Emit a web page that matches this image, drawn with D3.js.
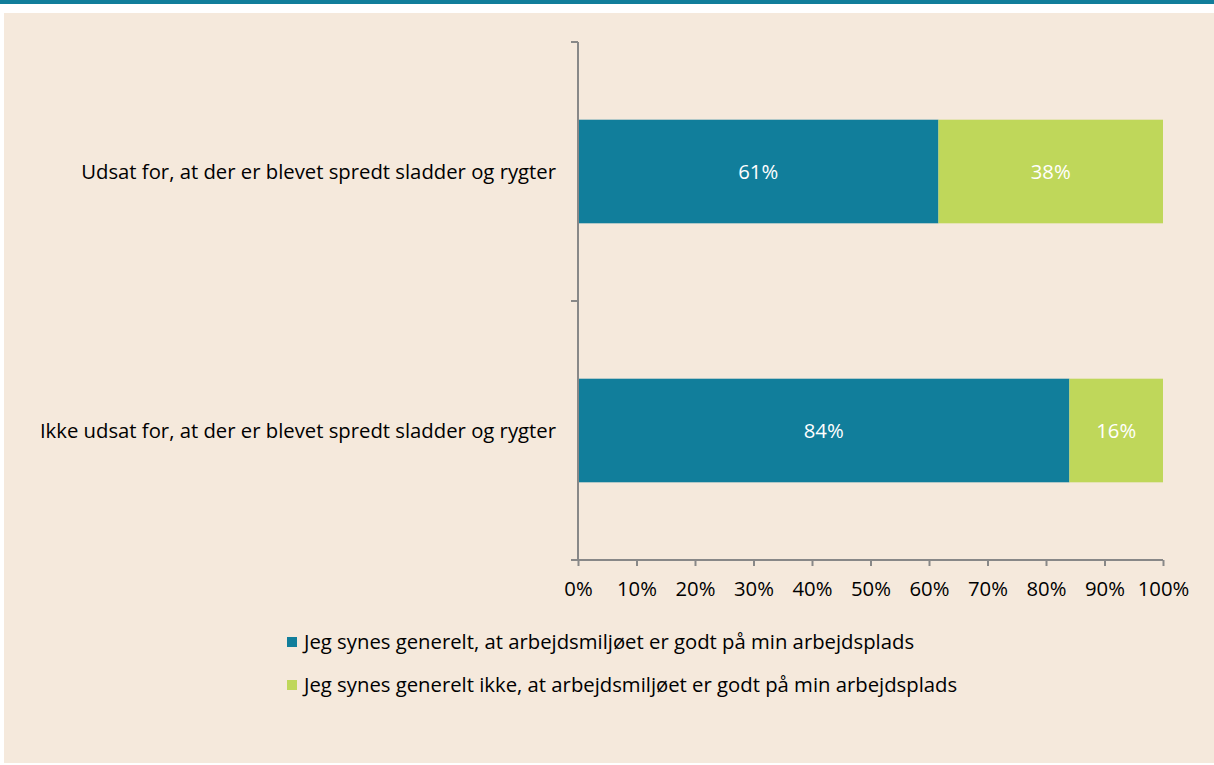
<!DOCTYPE html>
<html>
<head>
<meta charset="utf-8">
<script src="https://cdn.jsdelivr.net/npm/d3@7"></script>
<style>
  body { margin: 0; background: #fff; }
  svg text { font-family: "Open Sans", "Noto Sans", sans-serif; }
</style>
</head>
<body>
<svg id="chart"></svg>
<script>
const categories = [
  "Udsat for, at der er blevet spredt sladder og rygter",
  "Ikke udsat for, at der er blevet spredt sladder og rygter"
];
const seriesNames = [
  "Jeg synes generelt, at arbejdsmiljøet er godt på min arbejdsplads",
  "Jeg synes generelt ikke, at arbejdsmiljøet er godt på min arbejdsplads"
];
const goodValues = [61, 84];
const notGoodValues = [38, 16];
const tickValues = [0, 0.1, 0.2, 0.3, 0.4, 0.5, 0.6, 0.7, 0.8, 0.9, 1];
const colors = ["#117e9b", "#bfd75a"];

const width = 1214, height = 765;
const fontSize = "20.3px";
const svg = d3.select("#chart").attr("width", width).attr("height", height);

// backgrounds
svg.append("rect").attr("x", 0).attr("y", 0).attr("width", width).attr("height", 4).attr("fill", "#117e9b");
svg.append("rect").attr("x", 4).attr("y", 13).attr("width", width - 4).attr("height", 750).attr("fill", "#f5e9dc");

const plotLeft = 578, plotRight = 1163, plotTop = 42, plotBottom = 560;

const x = d3.scaleLinear().domain([0, 1]).range([plotLeft, plotRight]);
const y = d3.scaleBand().domain(categories).range([plotTop, plotBottom]).paddingInner(0.6).paddingOuter(0.3);

// 100% stacked rows
const rows = categories.map((c, i) => {
  const total = goodValues[i] + notGoodValues[i];
  return { cat: c, good: goodValues[i] / total, bad: notGoodValues[i] / total, gv: goodValues[i], bv: notGoodValues[i] };
});
const stacked = d3.stack().keys(["good", "bad"])(rows);

const g = svg.append("g");
stacked.forEach((layer, li) => {
  g.selectAll(null)
    .data(layer)
    .enter()
    .append("rect")
    .attr("x", d => x(d[0]))
    .attr("y", d => y(d.data.cat))
    .attr("width", d => x(d[1]) - x(d[0]))
    .attr("height", y.bandwidth())
    .attr("fill", colors[li]);

  g.selectAll(null)
    .data(layer)
    .enter()
    .append("text")
    .attr("x", d => (x(d[0]) + x(d[1])) / 2)
    .attr("y", d => y(d.data.cat) + y.bandwidth() / 2)
    .attr("dy", "0.35em")
    .attr("text-anchor", "middle")
    .attr("fill", "#fff")
    .style("font-size", fontSize)
    .text(d => (li === 0 ? d.data.gv : d.data.bv) + "%");
});

// x axis
const xAxis = svg.append("g")
  .attr("transform", `translate(0,${plotBottom})`)
  .call(d3.axisBottom(x).tickValues(tickValues).tickFormat(d3.format(".0%")).tickSize(6).tickSizeOuter(0));
xAxis.select(".domain").attr("stroke", "#888").attr("stroke-width", 2).attr("d", `M${plotLeft - 7},0H${plotRight}`);
xAxis.selectAll(".tick line").attr("stroke", "#888").attr("stroke-width", 2);
xAxis.selectAll(".tick text").attr("fill", "#000").style("font-size", fontSize).attr("y", 22).attr("dy", "0.71em");

// y axis: line with ticks at band boundaries
const yg = svg.append("g");
yg.append("line").attr("x1", plotLeft).attr("x2", plotLeft).attr("y1", plotTop).attr("y2", plotBottom)
  .attr("stroke", "#888").attr("stroke-width", 2);
const boundaries = [plotTop, (plotTop + plotBottom) / 2, plotBottom];
yg.selectAll(null).data(boundaries).enter().append("line")
  .attr("x1", plotLeft - 7).attr("x2", plotLeft).attr("y1", d => d).attr("y2", d => d)
  .attr("stroke", "#888").attr("stroke-width", 2);

yg.selectAll(null).data(categories).enter().append("text")
  .attr("x", 556)
  .attr("y", d => y(d) + y.bandwidth() / 2)
  .attr("dy", "0.35em")
  .attr("text-anchor", "end")
  .attr("fill", "#000")
  .style("font-size", fontSize)
  .text(d => d);

// legend
const legend = svg.append("g");
seriesNames.forEach((name, i) => {
  const ly = 642 + i * 43;
  legend.append("rect").attr("x", 287).attr("y", ly - 5).attr("width", 10).attr("height", 10).attr("fill", colors[i]);
  legend.append("text").attr("x", 304).attr("y", ly).attr("dy", "0.35em")
    .attr("fill", "#000").style("font-size", fontSize).text(name);
});
</script>
</body>
</html>
